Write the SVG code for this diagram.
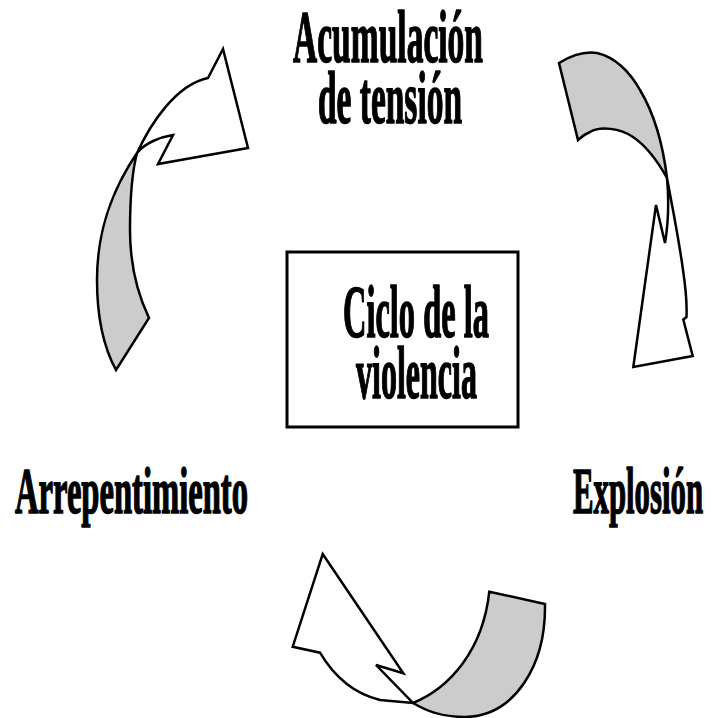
<svg xmlns="http://www.w3.org/2000/svg" width="718" height="718" viewBox="0 0 718 718">
<style>
  .lbl { font-family: "Liberation Serif", "Times New Roman", serif; font-weight: bold; fill: #000; stroke: #000; stroke-width: 1.6; stroke-linejoin: round; }
  .big { font-size: 73px; }
  .mid { font-size: 65px; }
  .w { fill: #ffffff; stroke: #000; stroke-width: 2.5; stroke-linejoin: miter; }
  .g { fill: #cccccc; stroke: #000; stroke-width: 2.5; stroke-linejoin: miter; }
  .box { fill: #ffffff; stroke: #000; stroke-width: 3; }
</style>
<rect width="718" height="718" fill="#ffffff"/>
<g id="connectors">
  <g id="arrow-top-left">
    <path class="g" d="M137,153 C112,190 97,230 97,280 C97,320 104,348 116,370 L149,318 C138,295 130,265 130,230 C130,195 132,172 137,153 Z"/>
    <path class="w" d="M137,153 C150,125 175,85 208,78 L223,49 L248,148 L158,164 L173,135 C160,137 145,143 137,153 Z"/>
  </g>
  <g id="arrow-top-right">
    <path class="g" d="M559,63 C572,55 585,51 597,53 C615,57 630,72 640,90 C655,115 663,145 667,178 C657,160 645,145 633,137 C620,128 600,126 590,132 C585,134 581,137 578,140 Z"/>
    <path class="w" d="M667,178 C672,205 679,240 683,270 C686,290 687,305 686.5,317 L683.3,319.5 L692.7,356 L633.3,367 L656,205 L665,243 C668,225 669,200 667,178 Z"/>
  </g>
  <g id="arrow-bottom">
    <path class="g" d="M489.3,591.7 L545,604 C546,665 515,716 465,717 C440,717 425,710 413,703 C450,688 483,650 489.3,591.7 Z"/>
    <path class="w" d="M322.7,554 L403.3,673.3 L376,665 L413,703 L380,700 C355,694 335,678 320,652.7 L292.7,646.7 Z"/>
  </g>
</g>
<g id="node-acumulacion">
  <text class="lbl big" x="293" y="62" textLength="190" lengthAdjust="spacingAndGlyphs">Acumulación</text>
  <text class="lbl big" x="318" y="123" textLength="144" lengthAdjust="spacingAndGlyphs">de tensión</text>
</g>
<g id="node-ciclo">
  <rect class="box" x="287" y="252" width="231" height="175"/>
  <text class="lbl big" x="343" y="337" textLength="146" lengthAdjust="spacingAndGlyphs">Ciclo de la</text>
  <text class="lbl big" x="356" y="398" textLength="121" lengthAdjust="spacingAndGlyphs">violencia</text>
</g>
<g id="node-arrepentimiento">
  <text class="lbl mid" x="15" y="513" textLength="233" lengthAdjust="spacingAndGlyphs">Arrepentimiento</text>
</g>
<g id="node-explosion">
  <text class="lbl mid" x="573" y="513" textLength="130" lengthAdjust="spacingAndGlyphs">Explosión</text>
</g>
</svg>
